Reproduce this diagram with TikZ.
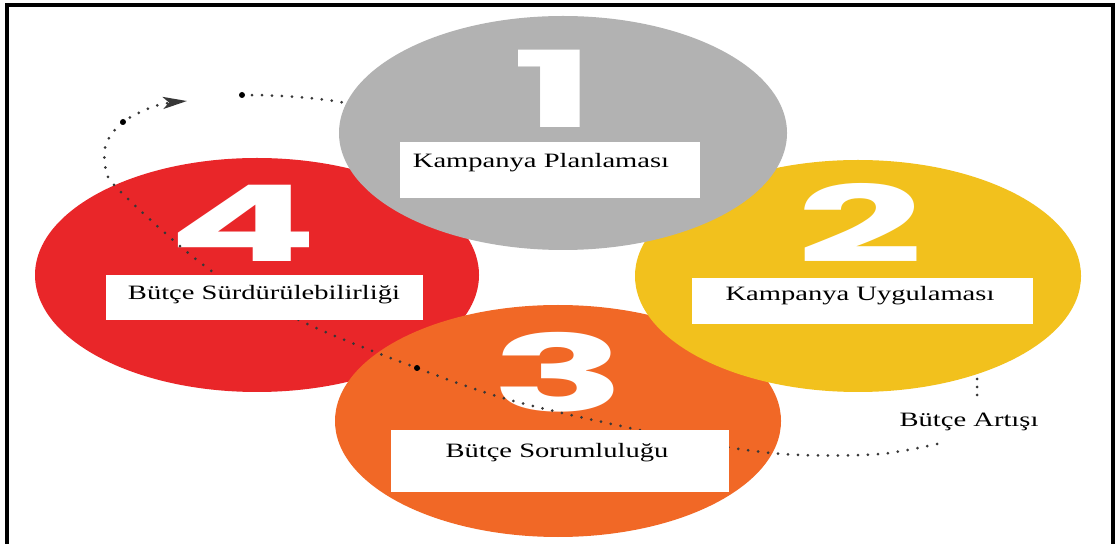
\documentclass[tikz,border=0pt]{standalone}
\usepackage{fontspec}
\setmainfont{Liberation Serif}
\newfontfamily\numfont{Poppins}
\usetikzlibrary{shapes.geometric,arrows.meta}
\definecolor{cgray}{RGB}{178,178,178}
\definecolor{cred}{RGB}{233,38,41}
\definecolor{corange}{RGB}{241,104,38}
\definecolor{cyellow}{RGB}{242,193,29}
\definecolor{cdot}{RGB}{55,55,55}
\tikzset{
  blob/.style={ellipse, inner sep=0pt, draw=none},
  whitebox/.style={rectangle, fill=white, draw=none, inner sep=0pt},
  lbl/.style={anchor=base, inner sep=0pt, font=\fontsize{10.2pt}{12pt}\selectfont},
  digit/.style={anchor=base, inner sep=0pt, text depth=0pt, text=white, font=\numfont\bfseries\fontsize{53pt}{60pt}\selectfont},
  dotline/.style={draw=cdot, line width=1.5pt, line cap=round, dash pattern=on 0pt off 5pt},
  bigdot/.style={circle, fill=black, inner sep=0pt, minimum size=3pt},
}
\begin{document}
\begin{tikzpicture}[x=0.5pt,y=-0.5pt]
\useasboundingbox (0,0) rectangle (1118,544);
\fill[white] (0,0) rectangle (1118,544);
% ellipses
\node[blob, fill=cred, minimum width=222pt, minimum height=117pt] (e4) at (257,275) {};
\node[blob, fill=corange, minimum width=223pt, minimum height=116pt] (e3) at (558,421) {};
\node[blob, fill=cyellow, minimum width=223pt, minimum height=116pt] (e2) at (858,276) {};
% short dotted line under the grey ellipse
\coordinate (p0) at (242,95);
\coordinate (p1) at (360,106);
\draw[dotline] (p0) .. controls (290,95) and (330,99) .. (p1);
\node[bigdot] (d2) at (p0) {};
% grey ellipse
\node[blob, fill=cgray, minimum width=224pt, minimum height=117pt] (e1) at (563,133) {};
% digits
\node[digit] (n1) at (554,128) {\scalebox{2.1}[1]{1}};
\node[digit] (n2) at (860,263) {\scalebox{2.1}[1]{2}};
\node[digit] (n3) at (559,412) {\scalebox{2.1}[1]{3}};
\node[digit] (n4) at (243,262) {\scalebox{2.1}[1]{4}};
% vertical dotted line
\coordinate (v0) at (977,379);
\coordinate (v1) at (977,402);
\draw[dotline, dash pattern=on 0pt off 4pt] (v0) -- (v1);
% main dotted curve with arrow
\coordinate (s) at (937,444);
\coordinate (t) at (187,101);
\draw[dotline, -{Stealth[length=12pt,width=6pt,inset=3pt]}] plot[smooth, tension=0.55] coordinates {(937,444) (880,454) (800,455) (733,448) (630,428) (510,400) (417,368) (303,322) (210,270) (117,188) (105,162) (107,142) (123,122) (155,106) (187,101)};
\node[bigdot] (d1) at (123,122) {};
\node[bigdot] (d3) at (417,368) {};
% white boxes
\node[whitebox, minimum width=150pt, minimum height=28pt] (b1) at (550,170) {};
\node[whitebox, minimum width=170.5pt, minimum height=23pt] (b2) at (862.5,301) {};
\node[whitebox, minimum width=158.5pt, minimum height=22.5pt] (b4) at (264.5,297.5) {};
\node[whitebox, minimum width=169pt, minimum height=31pt] (b3) at (560,461) {};
% labels
\node[lbl] (t1) at (541,168) {\scalebox{1.4}[1]{Kampanya Planlaması}};
\node[lbl] (t2) at (860,301) {\scalebox{1.4}[1]{Kampanya Uygulaması}};
\node[lbl] (t4) at (264,300) {\scalebox{1.4}[1]{Bütçe Sürdürülebilirliği}};
\node[lbl] (t3) at (557,458) {\scalebox{1.4}[1]{Bütçe Sorumluluğu}};
\node[lbl] (t5) at (969,427) {\scalebox{1.4}[1]{Bütçe Artışı}};
% frame
\draw[line width=1.6pt, line cap=rect] (7,546) -- (7,5) -- (1113,5) -- (1113,546);
\end{tikzpicture}
\end{document}
